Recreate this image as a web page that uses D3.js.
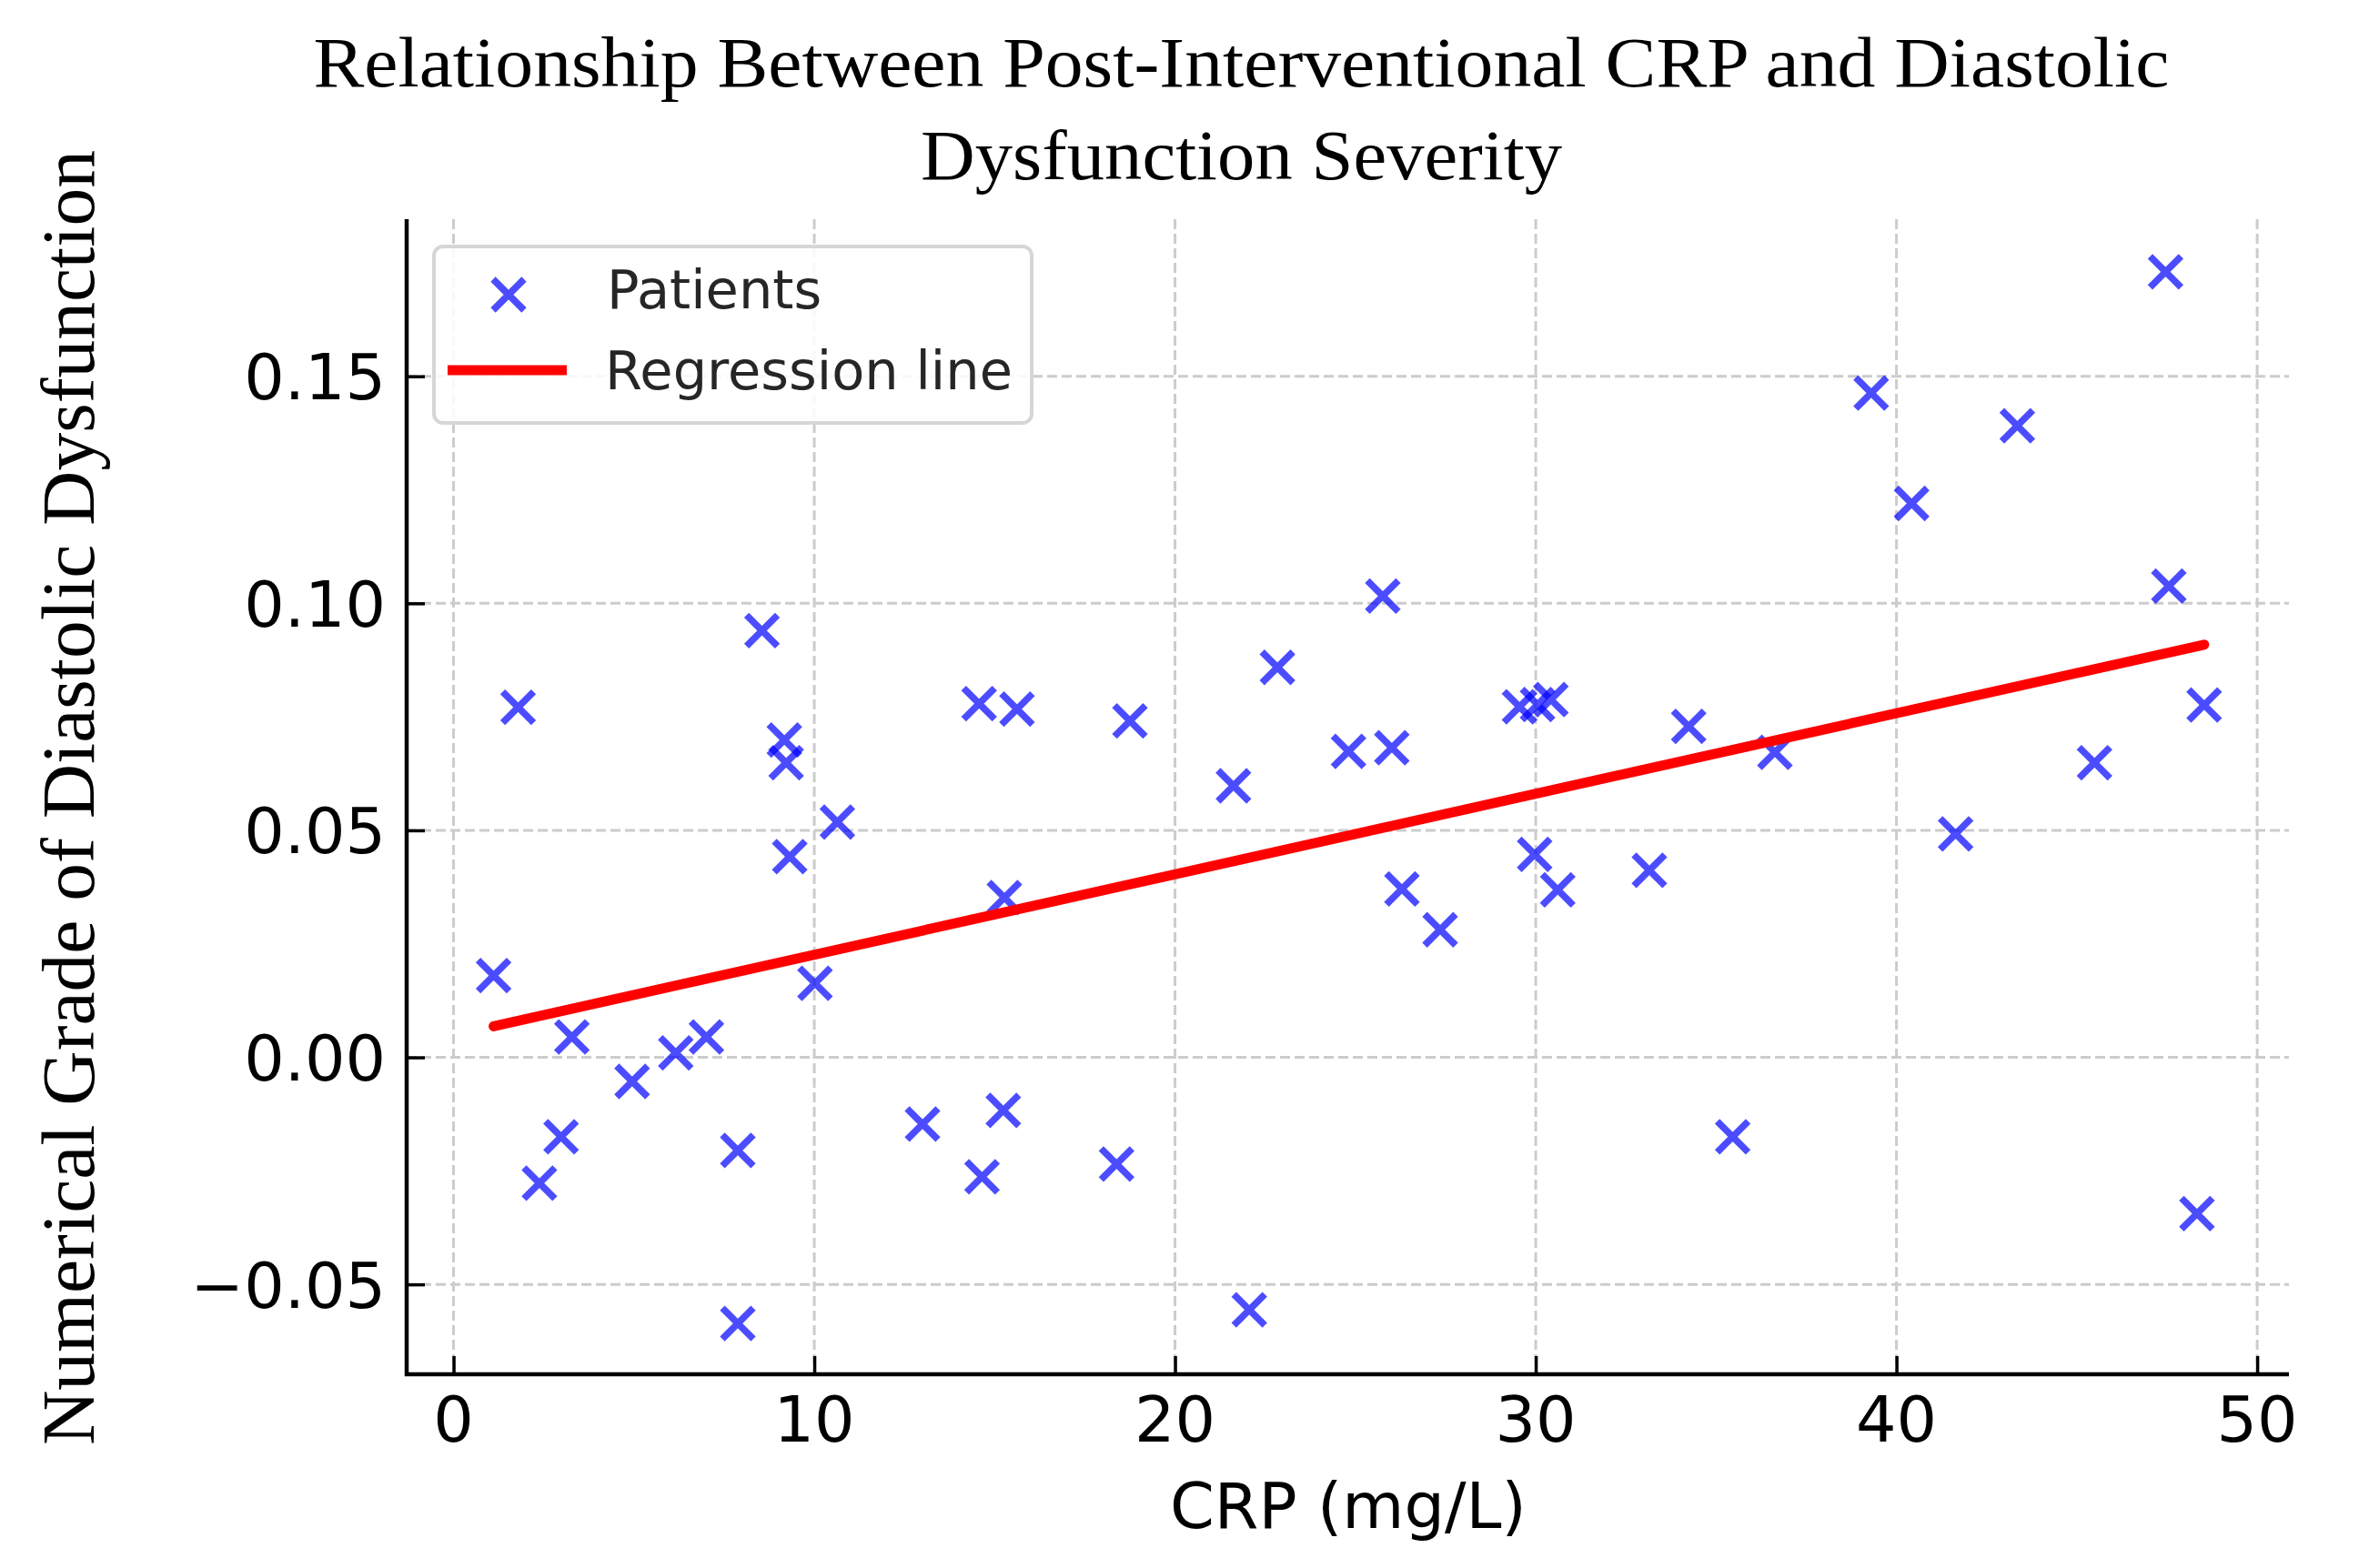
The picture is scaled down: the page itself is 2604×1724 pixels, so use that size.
<!DOCTYPE html>
<html>
<head>
<meta charset="utf-8">
<script src="https://cdn.jsdelivr.net/npm/d3@7"></script>
<style>
  html, body { margin: 0; padding: 0; background: #ffffff; }
  svg { display: block; }
</style>
</head>
<body>
<svg width="2604" height="1724"></svg>
<script>
// Values
const crp = [1.11, 1.79, 2.38, 2.98, 3.28, 4.95, 6.16, 7.01, 7.88, 7.88,
  8.55, 9.17, 9.22, 9.32, 10.02, 10.64, 13.00, 14.57, 14.65, 15.24,
  15.27, 15.62, 18.38, 18.75, 21.62, 22.06, 22.84, 24.81, 25.76, 26.01,
  26.29, 27.35, 29.55, 29.97, 30.05, 30.42, 30.61, 33.15, 34.24, 35.46,
  36.63, 39.30, 40.42, 41.64, 43.35, 45.49, 47.46, 47.55, 48.33, 48.53];

const grade = [0.0180, 0.0771, -0.0277, -0.0175, 0.0045, -0.0053, 0.0010, 0.0045, -0.0205, -0.0586,
  0.0940, 0.0699, 0.0649, 0.0442, 0.0163, 0.0518, -0.0147, 0.0779, -0.0263, -0.0117,
  0.0352, 0.0767, -0.0235, 0.0741, 0.0598, -0.0556, 0.0859, 0.0674, 0.1016, 0.0682,
  0.0371, 0.0281, 0.0772, 0.0447, 0.0777, 0.0788, 0.0369, 0.0412, 0.0729, -0.0175,
  0.0672, 0.1463, 0.1220, 0.0492, 0.1391, 0.0649, 0.1730, 0.1038, -0.0344, 0.0776];

// regression line as drawn in the picture
const regSlope = 0.0017725;
const regIntercept = 0.00488;

const xTicks = [0, 10, 20, 30, 40, 50];
const yTicks = [-0.05, 0.00, 0.05, 0.10, 0.15];

const titleLines = ["Relationship Between Post-Interventional CRP and Diastolic", "Dysfunction Severity"];

const svg = d3.select("svg");

// plot area
const plot = { left: 447, right: 2516, top: 241, bottom: 1511 };

const x = d3.scaleLinear().domain([-1.30, 50.88]).range([plot.left, plot.right]);
const y = d3.scaleLinear().domain([-0.0698, 0.1846]).range([plot.bottom, plot.top]);

const sansFont = "'DejaVu Sans', sans-serif";
const serifFont = "'Liberation Serif', 'DejaVu Serif', serif";

// Grid
const grid = svg.append("g")
  .attr("stroke", "#cccccc")
  .attr("stroke-width", 3)
  .attr("stroke-dasharray", "11,5");

grid.selectAll("line.vx")
  .data(xTicks)
  .join("line")
  .attr("class", "vx")
  .attr("x1", d => x(d)).attr("x2", d => x(d))
  .attr("y1", plot.top).attr("y2", plot.bottom);

grid.selectAll("line.hy")
  .data(yTicks)
  .join("line")
  .attr("class", "hy")
  .attr("x1", plot.left).attr("x2", plot.right)
  .attr("y1", d => y(d)).attr("y2", d => y(d));

// Axes (ticks pointing inward)
const xAxis = svg.append("g")
  .attr("transform", `translate(0, ${plot.bottom})`)
  .call(d3.axisTop(x).tickValues(xTicks).tickSize(20).tickFormat(""));

const yAxis = svg.append("g")
  .attr("transform", `translate(${plot.left}, 0)`)
  .call(d3.axisRight(y).tickValues(yTicks).tickSize(20).tickFormat(""));

[xAxis, yAxis].forEach(a => {
  a.select(".domain").remove();
  a.selectAll(".tick line").attr("stroke", "#000").attr("stroke-width", 3.5);
});

// Spines
svg.append("line")
  .attr("x1", plot.left).attr("x2", plot.left)
  .attr("y1", plot.top).attr("y2", plot.bottom + 2)
  .attr("stroke", "#000").attr("stroke-width", 4.5);

svg.append("line")
  .attr("x1", plot.left - 2).attr("x2", plot.right)
  .attr("y1", plot.bottom).attr("y2", plot.bottom)
  .attr("stroke", "#000").attr("stroke-width", 4.5);

// Tick labels
svg.selectAll("text.xtick")
  .data(xTicks)
  .join("text")
  .attr("class", "xtick")
  .attr("x", d => x(d))
  .attr("y", 1585)
  .attr("text-anchor", "middle")
  .style("font-family", sansFont)
  .style("font-size", "70px")
  .text(d => d3.format("d")(d));

svg.selectAll("text.ytick")
  .data(yTicks)
  .join("text")
  .attr("class", "ytick")
  .attr("x", 424)
  .attr("y", d => y(d))
  .attr("dy", "0.365em")
  .attr("text-anchor", "end")
  .style("font-family", sansFont)
  .style("font-size", "70px")
  .text(d => d3.format(".2f")(d));

// Points
const cross = "M-17,-17L17,17M-17,17L17,-17";
const points = crp.map((c, i) => ({ c: c, g: grade[i] }));

svg.append("g")
  .selectAll("path")
  .data(points)
  .join("path")
  .attr("transform", d => `translate(${x(d.c)}, ${y(d.g)})`)
  .attr("d", cross)
  .attr("fill", "none")
  .attr("stroke", "blue")
  .attr("stroke-opacity", 0.7)
  .attr("stroke-width", 7.5);

// Regression line over the data range
const xExt = d3.extent(crp);
svg.append("path")
  .datum(xExt)
  .attr("d", d3.line().x(d => x(d)).y(d => y(regIntercept + regSlope * d)))
  .attr("fill", "none")
  .attr("stroke", "red")
  .attr("stroke-width", 11)
  .attr("stroke-linecap", "round");

// Labels
svg.append("text")
  .attr("x", x(24.8))
  .attr("y", 1680)
  .attr("text-anchor", "middle")
  .style("font-family", sansFont)
  .style("font-size", "70px")
  .text("CRP (mg/L)");

svg.append("text")
  .attr("transform", "translate(103, 877) rotate(-90)")
  .attr("text-anchor", "middle")
  .attr("textLength", 1424)
  .attr("lengthAdjust", "spacingAndGlyphs")
  .style("font-family", serifFont)
  .style("font-size", "82px")
  .text("Numerical Grade of Diastolic Dysfunction");

// Title
const titleWidths = [2040, 705];
titleLines.forEach((t, i) => {
  svg.append("text")
    .attr("x", 1364.5)
    .attr("y", 95 + i * 101.7)
    .attr("text-anchor", "middle")
    .attr("textLength", titleWidths[i])
    .attr("lengthAdjust", "spacingAndGlyphs")
    .style("font-family", serifFont)
    .style("font-size", "78px")
    .text(t);
});

// Legend
const legend = svg.append("g");

legend.append("rect")
  .attr("x", 477).attr("y", 271)
  .attr("width", 657).attr("height", 194)
  .attr("rx", 10)
  .attr("fill", "#ffffff").attr("fill-opacity", 0.85)
  .attr("stroke", "#d6d6d6").attr("stroke-width", 4);

legend.append("path")
  .attr("transform", "translate(559, 324)")
  .attr("d", cross)
  .attr("fill", "none")
  .attr("stroke", "blue")
  .attr("stroke-opacity", 0.7)
  .attr("stroke-width", 7.5);

legend.append("line")
  .attr("x1", 492).attr("x2", 623)
  .attr("y1", 407).attr("y2", 407)
  .attr("stroke", "red").attr("stroke-width", 11);

legend.append("text")
  .attr("x", 667).attr("y", 339)
  .style("font-family", sansFont)
  .style("font-size", "59px")
  .attr("fill", "#262626")
  .text("Patients");

legend.append("text")
  .attr("x", 665).attr("y", 428)
  .style("font-family", sansFont)
  .style("font-size", "59px")
  .attr("fill", "#262626")
  .text("Regression line");
</script>
</body>
</html>
